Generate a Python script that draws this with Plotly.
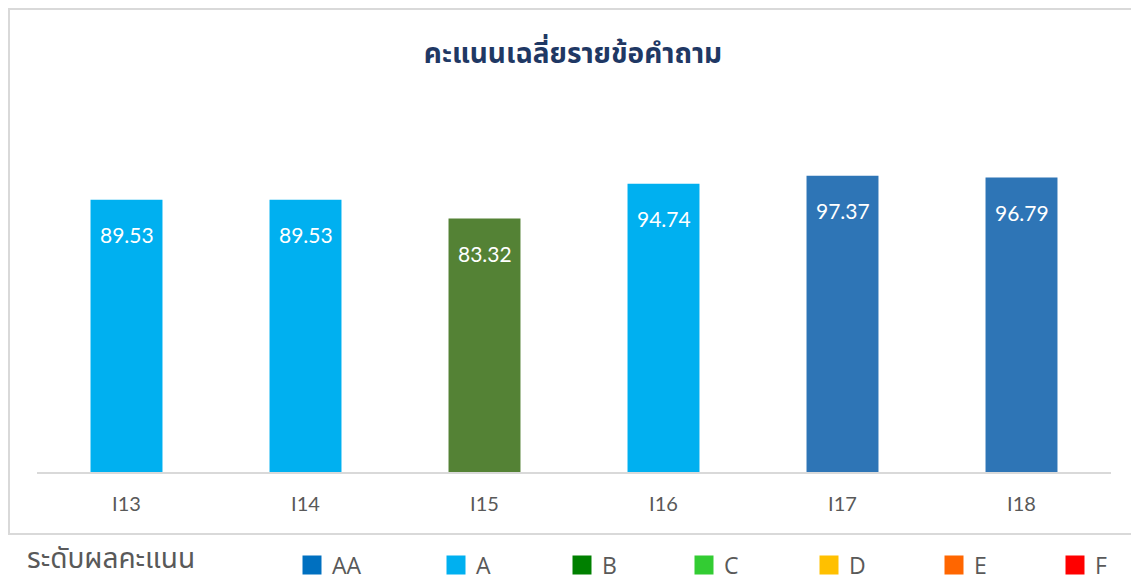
import plotly.graph_objects as go

categories = ["I13", "I14", "I15", "I16", "I17", "I18"]
scores = [89.53, 89.53, 83.32, 94.74, 97.37, 96.79]
grades = ["A", "A", "B", "A", "AA", "AA"]

bar_colors = {"AA": "#2E75B6", "A": "#00B0F0", "B": "#548235"}

legend_labels = ["AA", "A", "B", "C", "D", "E", "F"]
legend_colors = ["#0070C0", "#00B0F0", "#008000", "#33CC33", "#FFC000", "#FF6600", "#FF0000"]

title_text = "คะแนนเฉลี่ยรายข้อคำถาม"
legend_title = "ระดับผลคะแนน"

W, H = 1139, 583
OFF = 8  # page body margin offset
# plot area in page pixels: x 37..1111, y 107..472
ml = 37 - OFF
mr = W - (1111 - OFF)
mt = 107 - OFF
mb = H - (472 - OFF)
pw = W - ml - mr
ph = H - mt - mb


def px_x(p):
    return (p - OFF - ml) / pw


def px_y(p):
    return (H - mb - (p - OFF)) / ph


def cx(p):
    return (p - OFF) / W


def cy(p):
    return 1 - (p - OFF) / H


# legend swatch left edges in page pixels
legend_x_px = [305, 449, 575, 697, 822, 947, 1068]

fig = go.Figure()
fig.add_trace(go.Bar(
    x=categories, y=scores,
    marker=dict(color=[bar_colors[g] for g in grades], line=dict(width=0)),
    showlegend=False, hoverinfo="x+y",
))

legend_layouts = {}
for i, (lab, col) in enumerate(zip(legend_labels, legend_colors)):
    lid = "legend" if i == 0 else f"legend{i + 1}"
    fig.add_trace(go.Scatter(
        x=[None], y=[None], mode="markers", name=lab, legend=lid,
        marker=dict(symbol="square", size=16, color=col, line=dict(color=col, width=3)),
        showlegend=True,
    ))
    legend_layouts[lid] = dict(
        orientation="h", xref="container", x=cx(legend_x_px[i] - 13), xanchor="left",
        yref="container", y=cy(565), yanchor="middle",
        font=dict(family="Open Sans, sans-serif", size=23, color="#595959"),
        itemwidth=30, bgcolor="rgba(0,0,0,0)", borderwidth=0,
    )

for c, v in zip(categories, scores):
    fig.add_annotation(
        x=c, y=v, text=f"{v:.2f}", showarrow=False, yanchor="middle",
        yshift=-35, font=dict(family="Lato, Open Sans, sans-serif", size=21, color="white"),
    )

# legend heading
fig.add_annotation(
    xref="paper", yref="paper", x=px_x(25), y=px_y(559), xanchor="left", yanchor="middle",
    text=legend_title, showarrow=False,
    font=dict(family="Noto Sans Thai, Noto Sans, sans-serif", size=28, color="#595959"),
)

# chart border (decoration)
fig.add_shape(type="rect", xref="paper", yref="paper",
              x0=(1 - ml) / pw, x1=px_x(1132), y0=px_y(534), y1=(H - mb - 1) / ph,
              line=dict(color="#D9D9D9", width=2), fillcolor="rgba(0,0,0,0)", layer="below")

fig.update_layout(
    width=W, height=H,
    margin=dict(l=ml, r=mr, t=mt, b=mb, autoexpand=False),
    paper_bgcolor="white", plot_bgcolor="white",
    title=dict(text=f"<b>{title_text}</b>", x=px_x(573), xref="paper", xanchor="center",
               y=cy(53), yref="container", yanchor="middle",
               font=dict(family="Noto Sans Thai, Noto Sans, sans-serif", size=28, color="#1F3864")),
    bargap=0.598,
    xaxis=dict(showgrid=False, zeroline=False, showline=True, linecolor="#D9D9D9", linewidth=2,
               ticks="", tickfont=dict(family="Lato, Open Sans, sans-serif", size=20, color="#595959"),
               ticklabelstandoff=13),
    yaxis=dict(range=[0, 120], visible=False, fixedrange=True),
    showlegend=True,
    **legend_layouts,
)

fig.write_html("out.html")
